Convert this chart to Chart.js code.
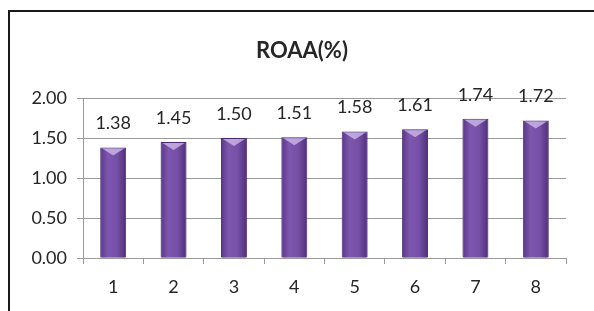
<!DOCTYPE html>
<html>
<head>
<meta charset="utf-8">
<script src="https://cdn.jsdelivr.net/npm/chart.js@4.4.0/dist/chart.umd.min.js"></script>
<style>
  html, body { margin: 0; padding: 0; background: #fff; }
  #wrap { position: relative; width: 594px; height: 311px; }
  #frame {
    position: absolute; left: 8px; top: 10px; width: 600px; height: 320px;
    border-left: 2px solid #1a1a1a; border-top: 2px solid #1a1a1a;
    pointer-events: none;
  }
</style>
</head>
<body>
<div id="wrap">
  <canvas id="chart" width="594" height="311"></canvas>
  <div id="frame"></div>
</div>
<script>
// data
const categories = ["1", "2", "3", "4", "5", "6", "7", "8"];
const roaa = [1.38, 1.45, 1.50, 1.51, 1.58, 1.61, 1.74, 1.72];
const yTicks = [0, 0.5, 1, 1.5, 2];
const titleText = "ROAA(%)";

const fontFamily = "Lato, 'Open Sans', sans-serif";

// shading of the bars (gradient across + light bevel on top), value labels, title
const barStyle = {
  id: "barStyle",
  afterDatasetsDraw(chart) {
    const ctx = chart.ctx;
    const meta = chart.getDatasetMeta(0);
    ctx.save();
    meta.data.forEach((bar, i) => {
      const half = bar.width / 2;
      const left = bar.x - half;
      const g = ctx.createLinearGradient(left, 0, bar.x + half, 0);
      g.addColorStop(0, "#5a3689");
      g.addColorStop(0.3, "#7d57ad");
      g.addColorStop(0.65, "#7650a6");
      g.addColorStop(1, "#4f2e7a");
      ctx.fillStyle = g;
      ctx.fillRect(left + 1, bar.y + 1, bar.width - 2, bar.base - bar.y - 1);
      // bevel on top
      ctx.beginPath();
      ctx.moveTo(left + 2, bar.y + 1);
      ctx.lineTo(bar.x + half - 2, bar.y + 1);
      ctx.lineTo(bar.x, bar.y + 8);
      ctx.closePath();
      ctx.fillStyle = "rgba(205,185,232,0.8)";
      ctx.fill();
      // value label
      ctx.fillStyle = "#262626";
      ctx.font = "18px " + fontFamily;
      ctx.textAlign = "center";
      ctx.textBaseline = "middle";
      ctx.fillText(roaa[i].toFixed(2), bar.x, bar.y - 24);
    });
    // title, centred on the whole frame rather than the plot
    ctx.font = "bold 22px " + fontFamily;
    ctx.fillStyle = "#262626";
    ctx.textAlign = "center";
    ctx.textBaseline = "middle";
    ctx.fillText(titleText, 302, 51);
    ctx.restore();
  },
};

const chart = new Chart(document.getElementById("chart"), {
  type: "bar",
  data: {
    labels: categories,
    datasets: [
      {
        label: titleText,
        data: roaa,
        backgroundColor: "#6f48a0",
        borderColor: "#4a2a72",
        borderWidth: 1,
        barPercentage: 0.43,
        categoryPercentage: 1,
      },
    ],
  },
  options: {
    responsive: false,
    animation: false,
    layout: { padding: { left: 0, right: 28, top: 98, bottom: 0 } },
    plugins: {
      legend: { display: false },
      tooltip: { enabled: false },
      title: { display: false },
    },
    scales: {
      x: {
        offset: true,
        grid: {
          display: true,
          offset: true,
          drawOnChartArea: false,
          drawTicks: true,
          tickLength: 6,
          color: "#9a9a9a",
        },
        border: { color: "#9a9a9a" },
        ticks: {
          color: "#262626",
          font: { family: fontFamily, size: 18 },
          padding: 12,
        },
        afterFit(scale) {
          scale.height = 53;
        },
      },
      y: {
        min: 0,
        max: 2,
        afterBuildTicks(scale) {
          scale.ticks = yTicks.map((v) => ({ value: v }));
        },
        grid: { color: "#9a9a9a", tickLength: 6 },
        border: { color: "#9a9a9a" },
        ticks: {
          color: "#262626",
          font: { family: fontFamily, size: 18 },
          padding: 10,
          callback: (v) => Number(v).toFixed(2),
        },
        afterFit(scale) {
          scale.width = 83;
        },
      },
    },
  },
  plugins: [barStyle],
});
</script>
</body>
</html>
